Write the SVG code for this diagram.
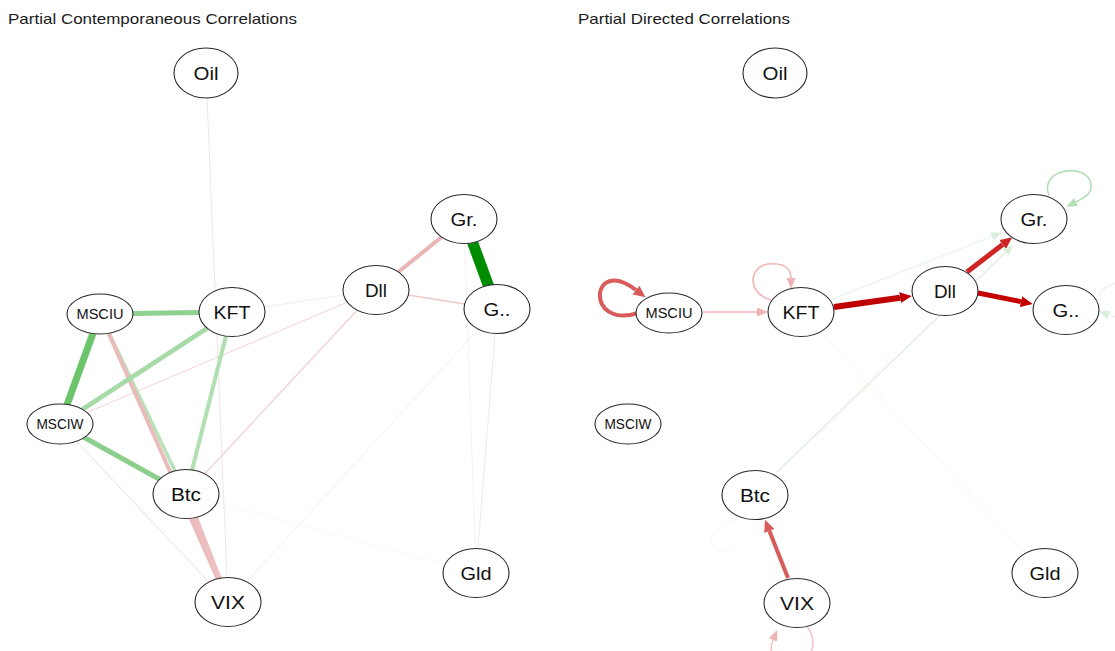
<svg xmlns="http://www.w3.org/2000/svg" width="1115" height="651" viewBox="0 0 1115 651">
  <style>
    .title { font-family: "Liberation Sans", Arial, sans-serif; font-size: 15px; fill: #1a1a1a; }
    .node ellipse { fill: #ffffff; stroke: #2b2b2b; stroke-width: 1.1; }
    .node text { font-family: "Liberation Sans", Arial, sans-serif; font-size: 18px; fill: #111111; text-anchor: middle; }
    .node text.small { font-size: 14px; }
    .edges line, .edges path { fill: none; stroke-linecap: butt; }
  </style>
  <defs>
    <marker id="ah-darkred" viewBox="0 0 12 11" refX="0" refY="5.5" markerWidth="12" markerHeight="11" markerUnits="userSpaceOnUse" orient="auto">
      <path d="M0,0 L12,5.5 L0,11 z" fill="#c00000"/>
    </marker>
    <marker id="ah-red" viewBox="0 0 12 11" refX="0" refY="5.5" markerWidth="12" markerHeight="11" markerUnits="userSpaceOnUse" orient="auto">
      <path d="M0,0 L12,5.5 L0,11 z" fill="#cf2525"/>
    </marker>
    <marker id="ah-rose" viewBox="0 0 12 11" refX="0" refY="5.5" markerWidth="12" markerHeight="11" markerUnits="userSpaceOnUse" orient="auto">
      <path d="M0,0 L12,5.5 L0,11 z" fill="#d85c5c"/>
    </marker>
    <marker id="ah-pink" viewBox="0 0 11 9" refX="0" refY="4.5" markerWidth="11" markerHeight="9" markerUnits="userSpaceOnUse" orient="auto">
      <path d="M0,0 L11,4.5 L0,9 z" fill="#efb3b3"/>
    </marker>
    <marker id="ah-green" viewBox="0 0 11 9" refX="0" refY="4.5" markerWidth="11" markerHeight="9" markerUnits="userSpaceOnUse" orient="auto">
      <path d="M0,0 L11,4.5 L0,9 z" fill="#b5dfb5"/>
    </marker>
    <marker id="ah-faintgreen" viewBox="0 0 11 9" refX="0" refY="4.5" markerWidth="11" markerHeight="9" markerUnits="userSpaceOnUse" orient="auto">
      <path d="M0,0 L11,4.5 L0,9 z" fill="#dcefdc"/>
    </marker>
  </defs>

  <rect width="1115" height="651" fill="#ffffff"/>

  <text class="title" x="8" y="24" textLength="289" lengthAdjust="spacingAndGlyphs">Partial Contemporaneous Correlations</text>
  <text class="title" x="578" y="24" textLength="212" lengthAdjust="spacingAndGlyphs">Partial Directed Correlations</text>

  <!-- undirected partial correlations (left network) -->
  <g id="edges-contemporaneous" class="edges">
    <line x1="186" y1="494" x2="476" y2="573" stroke="#f8f6f6" stroke-width="0.8"/>
    <line x1="464" y1="219" x2="476" y2="573" stroke="#f2f2f2" stroke-width="1"/>
    <line x1="497" y1="309" x2="476" y2="573" stroke="#ebebeb" stroke-width="1"/>
    <line x1="228" y1="602" x2="497" y2="309" stroke="#f6ecec" stroke-width="1"/>
    <line x1="232" y1="312" x2="376" y2="290" stroke="#f6eaea" stroke-width="1"/>
    <line x1="206" y1="73" x2="228" y2="602" stroke="#f7e3e3" stroke-width="1"/>
    <line x1="60" y1="424" x2="228" y2="602" stroke="#f5d8d8" stroke-width="1"/>
    <line x1="60" y1="424" x2="376" y2="290" stroke="#f5d2d2" stroke-width="1"/>
    <line x1="186" y1="494" x2="376" y2="290" stroke="#f3cdcd" stroke-width="1.2"/>
    <line x1="376" y1="290" x2="497" y2="309" stroke="#f0c9c9" stroke-width="1.5"/>
    <line x1="376" y1="290" x2="464" y2="219" stroke="#e9b6b6" stroke-width="4"/>
    <line x1="100" y1="314" x2="186" y2="494" stroke="#b8e2b8" stroke-width="3.5"/>
    <line x1="100" y1="314" x2="228" y2="602" stroke="#ebbaba" stroke-width="4"/>
    <line x1="186" y1="494" x2="228" y2="602" stroke="#edbfbf" stroke-width="5.5"/>
    <line x1="232" y1="312" x2="186" y2="494" stroke="#b0dfb0" stroke-width="4"/>
    <line x1="232" y1="312" x2="60" y2="424" stroke="#a6daa6" stroke-width="4.5"/>
    <line x1="60" y1="424" x2="186" y2="494" stroke="#8ccf8c" stroke-width="5"/>
    <line x1="100" y1="314" x2="232" y2="312" stroke="#8fd18f" stroke-width="5"/>
    <line x1="100" y1="314" x2="60" y2="424" stroke="#6cc46c" stroke-width="7"/>
    <line x1="464" y1="219" x2="497" y2="309" stroke="#008c00" stroke-width="11"/>
  </g>

  <!-- directed partial correlations (right network) -->
  <g id="edges-directed" class="edges">
    <line x1="823" y1="335" x2="1025" y2="553" stroke="#f3f3f3" stroke-width="0.8"/>
    <path d="M742 519 C 700 525, 705 560, 735 548" stroke="#f7f7f7" stroke-width="1"/>
    <path d="M1098 296 C 1110 276, 1142 278, 1132 308 C 1127 318, 1117 318, 1109 315" stroke="#e4f3e4" stroke-width="1.2" marker-end="url(#ah-faintgreen)"/>
    <line x1="777" y1="472" x2="1005.5" y2="252.4" stroke="#dcefdc" stroke-width="1.2" marker-end="url(#ah-faintgreen)"/>
    <line x1="830" y1="300" x2="991.8" y2="236.4" stroke="#e2f2e2" stroke-width="1" marker-end="url(#ah-faintgreen)"/>
    <line x1="703" y1="312" x2="757" y2="312" stroke="#efb3b3" stroke-width="1.6" marker-end="url(#ah-pink)"/>
    <path d="M638 313 C 585 330, 590 255, 636 290" stroke="#d85c5c" stroke-width="4" marker-end="url(#ah-rose)"/>
    <path d="M771 300 C 742 292, 750 256, 782 265 C 788 267, 791 271, 791 278" stroke="#f2baba" stroke-width="1.8" marker-end="url(#ah-pink)"/>
    <path d="M1049 196 C 1038 168, 1088 162, 1091 184 C 1092 192, 1088 196, 1076 202" stroke="#b5dfb5" stroke-width="1.6" marker-end="url(#ah-green)"/>
    <path d="M806 625 C 822 645, 808 666, 790 663 C 770 660, 769 650, 773 640" stroke="#f3c6c6" stroke-width="1.6" marker-end="url(#ah-pink)"/>
    <line x1="788" y1="578" x2="769.4" y2="531" stroke="#d85c5c" stroke-width="4" marker-end="url(#ah-rose)"/>
    <line x1="834" y1="307" x2="900" y2="297.7" stroke="#c00000" stroke-width="6" marker-end="url(#ah-darkred)"/>
    <line x1="967" y1="272" x2="1002.7" y2="244.5" stroke="#cf2525" stroke-width="5" marker-end="url(#ah-red)"/>
    <line x1="978" y1="293" x2="1021" y2="301.6" stroke="#c40000" stroke-width="5" marker-end="url(#ah-darkred)"/>
  </g>

  <!-- nodes: contemporaneous network -->
  <g id="c-oil" class="node"><ellipse cx="206" cy="73" rx="32" ry="25"/><text x="206" y="79.5" textLength="25" lengthAdjust="spacingAndGlyphs">Oil</text></g>
  <g id="c-msciu" class="node"><ellipse cx="100" cy="314" rx="33" ry="20"/><text class="small" x="100" y="319" textLength="47" lengthAdjust="spacingAndGlyphs">MSCIU</text></g>
  <g id="c-kft" class="node"><ellipse cx="232" cy="312" rx="33" ry="24.5"/><text x="232" y="318.5" textLength="37" lengthAdjust="spacingAndGlyphs">KFT</text></g>
  <g id="c-msciw" class="node"><ellipse cx="60" cy="424" rx="33" ry="20"/><text class="small" x="60" y="429" textLength="47" lengthAdjust="spacingAndGlyphs">MSCIW</text></g>
  <g id="c-btc" class="node"><ellipse cx="186" cy="494" rx="33" ry="24.5"/><text x="186" y="500.5" textLength="30" lengthAdjust="spacingAndGlyphs">Btc</text></g>
  <g id="c-vix" class="node"><ellipse cx="228" cy="602" rx="33" ry="24.5"/><text x="228" y="608.5" textLength="34" lengthAdjust="spacingAndGlyphs">VIX</text></g>
  <g id="c-dll" class="node"><ellipse cx="376" cy="290" rx="33" ry="24.5"/><text x="376" y="296.5" textLength="22" lengthAdjust="spacingAndGlyphs">Dll</text></g>
  <g id="c-gr" class="node"><ellipse cx="464" cy="219" rx="33" ry="24.5"/><text x="464" y="225.5" textLength="27" lengthAdjust="spacingAndGlyphs">Gr.</text></g>
  <g id="c-gdot" class="node"><ellipse cx="497" cy="309" rx="33" ry="24.5"/><text x="497" y="315.5" textLength="27" lengthAdjust="spacingAndGlyphs">G..</text></g>
  <g id="c-gld" class="node"><ellipse cx="476" cy="573" rx="33" ry="24.5"/><text x="476" y="579.5" textLength="31" lengthAdjust="spacingAndGlyphs">Gld</text></g>

  <!-- nodes: directed network -->
  <g id="d-oil" class="node"><ellipse cx="775" cy="73" rx="32" ry="25"/><text x="775" y="79.5" textLength="25" lengthAdjust="spacingAndGlyphs">Oil</text></g>
  <g id="d-msciu" class="node"><ellipse cx="669" cy="313" rx="33" ry="20"/><text class="small" x="669" y="318" textLength="47" lengthAdjust="spacingAndGlyphs">MSCIU</text></g>
  <g id="d-kft" class="node"><ellipse cx="801" cy="312" rx="33" ry="24.5"/><text x="801" y="318.5" textLength="37" lengthAdjust="spacingAndGlyphs">KFT</text></g>
  <g id="d-msciw" class="node"><ellipse cx="628" cy="424" rx="33" ry="20"/><text class="small" x="628" y="429" textLength="47" lengthAdjust="spacingAndGlyphs">MSCIW</text></g>
  <g id="d-btc" class="node"><ellipse cx="755" cy="495" rx="33" ry="24.5"/><text x="755" y="501.5" textLength="30" lengthAdjust="spacingAndGlyphs">Btc</text></g>
  <g id="d-vix" class="node"><ellipse cx="797" cy="603" rx="33" ry="24.5"/><text x="797" y="609.5" textLength="34" lengthAdjust="spacingAndGlyphs">VIX</text></g>
  <g id="d-dll" class="node"><ellipse cx="945" cy="291" rx="33" ry="24.5"/><text x="945" y="297.5" textLength="22" lengthAdjust="spacingAndGlyphs">Dll</text></g>
  <g id="d-gr" class="node"><ellipse cx="1034" cy="219" rx="33" ry="24.5"/><text x="1034" y="225.5" textLength="27" lengthAdjust="spacingAndGlyphs">Gr.</text></g>
  <g id="d-gdot" class="node"><ellipse cx="1066" cy="310" rx="33" ry="24.5"/><text x="1066" y="316.5" textLength="27" lengthAdjust="spacingAndGlyphs">G..</text></g>
  <g id="d-gld" class="node"><ellipse cx="1045" cy="573" rx="33" ry="24.5"/><text x="1045" y="579.5" textLength="31" lengthAdjust="spacingAndGlyphs">Gld</text></g>
</svg>
